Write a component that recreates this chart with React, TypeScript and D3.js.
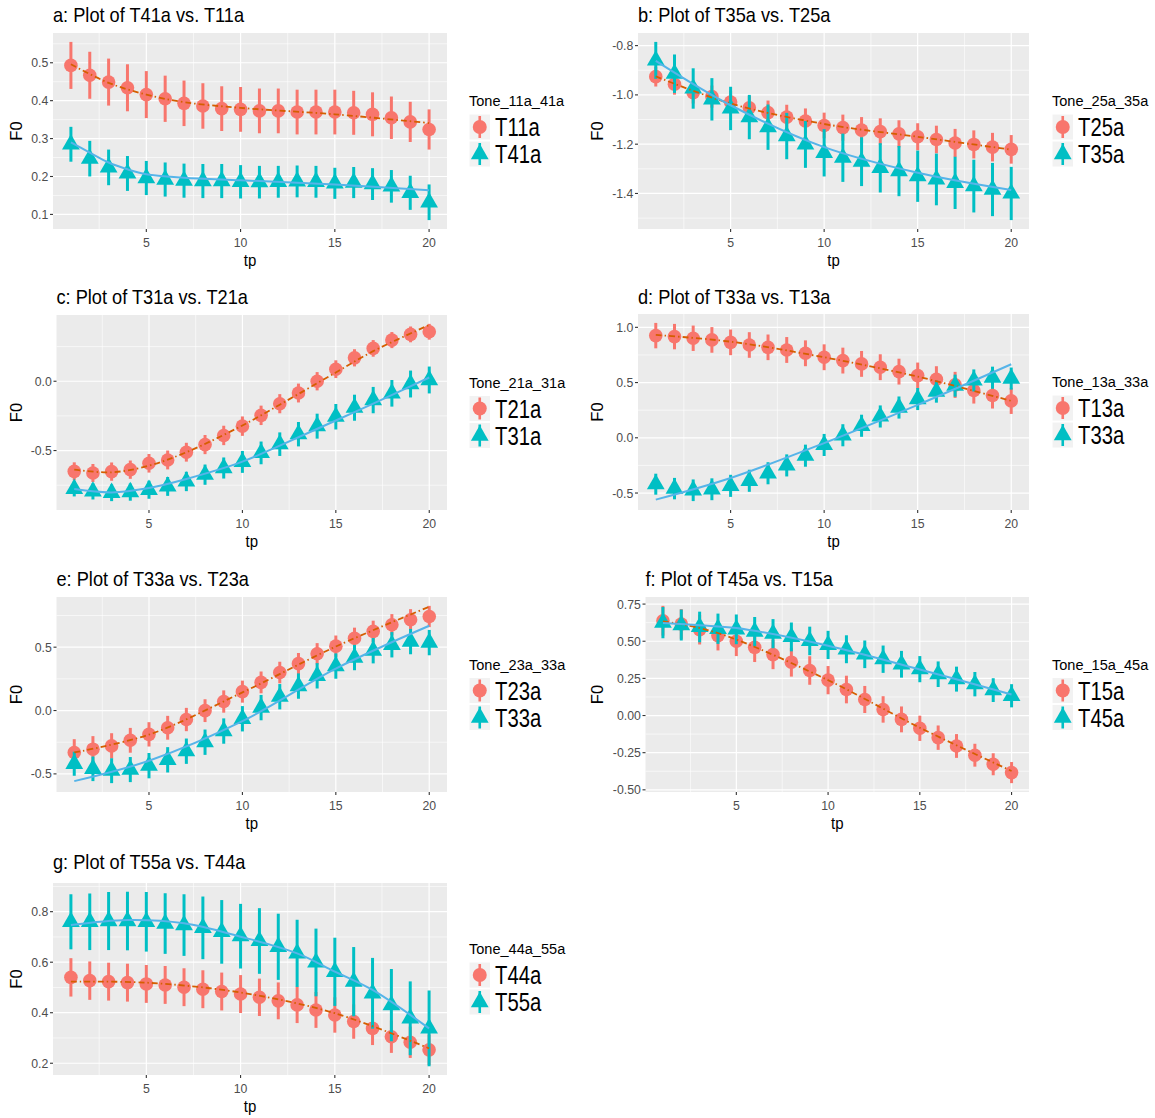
import React from 'react';
import * as d3 from 'd3';

// ---------- data ----------
const TP = [1, 2, 3, 4, 5, 6, 7, 8, 9, 10, 11, 12, 13, 14, 15, 16, 17, 18, 19, 20];
const X_TICKS = [5, 10, 15, 20];

// panel a
const T11A = [0.493, 0.467, 0.449, 0.434, 0.416, 0.405, 0.393, 0.386, 0.379, 0.377, 0.373, 0.373, 0.370, 0.370, 0.370, 0.368, 0.364, 0.355, 0.344, 0.324];
const T11A_ERR = [0.062, 0.062, 0.062, 0.062, 0.062, 0.061, 0.060, 0.060, 0.059, 0.059, 0.059, 0.059, 0.059, 0.059, 0.059, 0.058, 0.058, 0.056, 0.053, 0.053];
const T41A = [0.285, 0.247, 0.224, 0.208, 0.196, 0.192, 0.189, 0.188, 0.188, 0.186, 0.185, 0.186, 0.187, 0.186, 0.182, 0.184, 0.180, 0.174, 0.157, 0.132];
const T41A_ERR = [0.046, 0.047, 0.047, 0.046, 0.045, 0.045, 0.045, 0.045, 0.045, 0.044, 0.043, 0.042, 0.042, 0.042, 0.041, 0.041, 0.042, 0.043, 0.045, 0.047];
const FIT_A_RED_X = [1, 3, 5, 7, 10, 15, 20];
const FIT_A_RED_Y = [0.496, 0.447, 0.416, 0.396, 0.381, 0.364, 0.341];
const FIT_A_BLUE_X = [1, 2, 3, 4, 5, 7, 10, 15, 20];
const FIT_A_BLUE_Y = [0.290, 0.263, 0.237, 0.219, 0.206, 0.197, 0.190, 0.179, 0.164];

// panel b
const T25A = [-0.926, -0.957, -0.991, -1.007, -1.029, -1.052, -1.072, -1.090, -1.106, -1.124, -1.133, -1.143, -1.149, -1.158, -1.170, -1.181, -1.195, -1.201, -1.212, -1.221];
const T25A_ERR = [0.040, 0.042, 0.044, 0.045, 0.046, 0.048, 0.049, 0.050, 0.051, 0.052, 0.053, 0.053, 0.054, 0.055, 0.055, 0.056, 0.057, 0.057, 0.058, 0.058];
const T35A = [-0.860, -0.914, -0.974, -1.018, -1.055, -1.090, -1.131, -1.167, -1.201, -1.235, -1.255, -1.271, -1.296, -1.309, -1.330, -1.343, -1.357, -1.370, -1.384, -1.400];
const T35A_ERR = [0.075, 0.078, 0.082, 0.086, 0.088, 0.090, 0.092, 0.094, 0.095, 0.096, 0.098, 0.099, 0.100, 0.102, 0.104, 0.105, 0.106, 0.107, 0.108, 0.108];
const FIT_B_RED_X = [1, 5, 10, 15, 20];
const FIT_B_RED_Y = [-0.925, -1.035, -1.118, -1.170, -1.222];
const FIT_B_BLUE_X = [1, 5, 10, 15, 20];
const FIT_B_BLUE_Y = [-0.862, -1.042, -1.212, -1.316, -1.386];

// panel c
const T21A = [-0.650, -0.662, -0.652, -0.638, -0.592, -0.568, -0.512, -0.457, -0.391, -0.324, -0.246, -0.162, -0.085, 0.0, 0.087, 0.169, 0.237, 0.297, 0.338, 0.357];
const T21A_ERR = [0.065, 0.065, 0.066, 0.066, 0.067, 0.068, 0.068, 0.069, 0.070, 0.070, 0.070, 0.069, 0.068, 0.066, 0.064, 0.062, 0.060, 0.058, 0.057, 0.057];
const T31A = [-0.776, -0.795, -0.805, -0.800, -0.783, -0.759, -0.723, -0.674, -0.626, -0.582, -0.517, -0.454, -0.382, -0.324, -0.256, -0.191, -0.136, -0.087, -0.020, 0.009];
const T31A_ERR = [0.055, 0.058, 0.060, 0.062, 0.065, 0.068, 0.070, 0.073, 0.076, 0.079, 0.082, 0.085, 0.088, 0.090, 0.092, 0.094, 0.095, 0.096, 0.097, 0.097];
const FIT_C_RED_X = [1, 3, 5, 7, 10, 12, 15, 17, 20];
const FIT_C_RED_Y = [-0.638, -0.657, -0.609, -0.512, -0.319, -0.169, 0.063, 0.217, 0.406];
const FIT_C_BLUE_X = [1, 3, 5, 7, 10, 12, 15, 17, 20];
const FIT_C_BLUE_Y = [-0.778, -0.802, -0.770, -0.705, -0.580, -0.464, -0.283, -0.162, 0.027];

// panel d
const T13A = [0.925, 0.916, 0.901, 0.886, 0.864, 0.840, 0.819, 0.795, 0.765, 0.729, 0.699, 0.669, 0.639, 0.599, 0.563, 0.530, 0.479, 0.428, 0.383, 0.334];
const T13A_ERR = [0.115, 0.115, 0.115, 0.116, 0.116, 0.116, 0.116, 0.117, 0.117, 0.117, 0.117, 0.117, 0.117, 0.117, 0.118, 0.118, 0.118, 0.118, 0.118, 0.118];
// T33a appears in panels d and e
const T33A = [-0.420, -0.460, -0.475, -0.466, -0.435, -0.389, -0.321, -0.250, -0.162, -0.065, 0.023, 0.109, 0.193, 0.274, 0.351, 0.418, 0.472, 0.519, 0.544, 0.536];
const T33A_ERR = [0.095, 0.097, 0.098, 0.099, 0.100, 0.100, 0.100, 0.100, 0.100, 0.100, 0.100, 0.100, 0.100, 0.100, 0.100, 0.100, 0.100, 0.100, 0.100, 0.100];
const FIT_D_RED_X = [1, 5, 10, 15, 20];
const FIT_D_RED_Y = [0.931, 0.870, 0.729, 0.554, 0.334];
const FIT_D_BLUE_X = [1, 5, 10, 15, 20];
const FIT_D_BLUE_Y = [-0.560, -0.364, -0.048, 0.298, 0.666];

// panel e
const T23A = [-0.331, -0.305, -0.279, -0.235, -0.188, -0.136, -0.071, -0.001, 0.071, 0.149, 0.222, 0.300, 0.370, 0.448, 0.508, 0.570, 0.625, 0.677, 0.716, 0.742];
const T23A_ERR = [0.105, 0.103, 0.100, 0.098, 0.096, 0.094, 0.092, 0.090, 0.088, 0.087, 0.086, 0.085, 0.084, 0.084, 0.084, 0.084, 0.084, 0.084, 0.084, 0.084];
const FIT_E_RED_X = [1, 5, 10, 15, 20];
const FIT_E_RED_Y = [-0.331, -0.190, 0.143, 0.505, 0.819];
const FIT_E_BLUE_X = [1, 5, 10, 15, 20];
const FIT_E_BLUE_Y = [-0.557, -0.396, -0.084, 0.331, 0.669];

// panel f
const T15A = [0.638, 0.616, 0.578, 0.538, 0.500, 0.459, 0.410, 0.359, 0.303, 0.238, 0.175, 0.108, 0.041, -0.026, -0.086, -0.149, -0.205, -0.267, -0.328, -0.384];
const T15A_ERR = [0.100, 0.100, 0.100, 0.100, 0.100, 0.099, 0.098, 0.097, 0.096, 0.095, 0.093, 0.091, 0.089, 0.087, 0.085, 0.082, 0.080, 0.077, 0.074, 0.071];
const T45A = [0.625, 0.609, 0.596, 0.584, 0.580, 0.564, 0.551, 0.529, 0.502, 0.475, 0.446, 0.412, 0.379, 0.345, 0.312, 0.278, 0.245, 0.211, 0.171, 0.133];
const T45A_ERR = [0.105, 0.104, 0.103, 0.102, 0.100, 0.099, 0.098, 0.097, 0.096, 0.095, 0.094, 0.093, 0.092, 0.090, 0.088, 0.086, 0.084, 0.082, 0.080, 0.078];
const FIT_F_RED_X = [1, 3, 5, 10, 15, 20];
const FIT_F_RED_Y = [0.634, 0.589, 0.511, 0.238, -0.082, -0.373];
const FIT_F_BLUE_X = [1, 3, 5, 10, 15, 20];
const FIT_F_BLUE_Y = [0.623, 0.607, 0.589, 0.470, 0.310, 0.142];

// panel g
const T44A = [0.540, 0.527, 0.523, 0.519, 0.514, 0.510, 0.501, 0.493, 0.484, 0.474, 0.461, 0.447, 0.431, 0.411, 0.391, 0.365, 0.338, 0.305, 0.283, 0.253];
const T44A_ERR = [0.076, 0.076, 0.075, 0.075, 0.075, 0.075, 0.075, 0.075, 0.075, 0.075, 0.074, 0.073, 0.072, 0.071, 0.070, 0.068, 0.066, 0.064, 0.062, 0.060];
const T55A = [0.760, 0.760, 0.763, 0.763, 0.760, 0.753, 0.747, 0.736, 0.720, 0.703, 0.684, 0.661, 0.635, 0.599, 0.562, 0.523, 0.477, 0.430, 0.378, 0.338];
const T55A_ERR = [0.109, 0.112, 0.115, 0.116, 0.118, 0.120, 0.122, 0.124, 0.126, 0.128, 0.130, 0.131, 0.133, 0.134, 0.135, 0.137, 0.140, 0.143, 0.146, 0.150];
const FIT_G_RED_X = [1, 5, 10, 15, 20];
const FIT_G_RED_Y = [0.523, 0.519, 0.480, 0.398, 0.259];
const FIT_G_BLUE_X = [1, 4, 7, 10, 13, 15, 17, 20];
const FIT_G_BLUE_Y = [0.747, 0.767, 0.754, 0.701, 0.635, 0.563, 0.490, 0.338];

// y tick values & labels
const YT_A = [0.1, 0.2, 0.3, 0.4, 0.5];
const YL_A = ['0.1', '0.2', '0.3', '0.4', '0.5'];
const YT_B = [-1.4, -1.2, -1.0, -0.8];
const YL_B = ['-1.4', '-1.2', '-1.0', '-0.8'];
const YT_C = [-0.5, 0.0];
const YL_C = ['-0.5', '0.0'];
const YT_D = [-0.5, 0.0, 0.5, 1.0];
const YL_D = ['-0.5', '0.0', '0.5', '1.0'];
const YT_E = [-0.5, 0.0, 0.5];
const YL_E = ['-0.5', '0.0', '0.5'];
const YT_F = [-0.5, -0.25, 0, 0.25, 0.5, 0.75];
const YL_F = ['-0.50', '-0.25', '0.00', '0.25', '0.50', '0.75'];
const YT_G = [0.2, 0.4, 0.6, 0.8];
const YL_G = ['0.2', '0.4', '0.6', '0.8'];

// ---------- panel definitions ----------
const PANELS = [
  { title: 'a: Plot of T41a vs. T11a', legend: 'Tone_11a_41a', yt: YT_A, yl: YL_A,
    s1: { name: 'T11a', m: T11A, e: T11A_ERR, fx: FIT_A_RED_X, fy: FIT_A_RED_Y },
    s2: { name: 'T41a', m: T41A, e: T41A_ERR, fx: FIT_A_BLUE_X, fy: FIT_A_BLUE_Y } },
  { title: 'b: Plot of T35a vs. T25a', legend: 'Tone_25a_35a', yt: YT_B, yl: YL_B,
    s1: { name: 'T25a', m: T25A, e: T25A_ERR, fx: FIT_B_RED_X, fy: FIT_B_RED_Y },
    s2: { name: 'T35a', m: T35A, e: T35A_ERR, fx: FIT_B_BLUE_X, fy: FIT_B_BLUE_Y } },
  { title: 'c: Plot of T31a vs. T21a', legend: 'Tone_21a_31a', yt: YT_C, yl: YL_C,
    s1: { name: 'T21a', m: T21A, e: T21A_ERR, fx: FIT_C_RED_X, fy: FIT_C_RED_Y },
    s2: { name: 'T31a', m: T31A, e: T31A_ERR, fx: FIT_C_BLUE_X, fy: FIT_C_BLUE_Y } },
  { title: 'd: Plot of T33a vs. T13a', legend: 'Tone_13a_33a', yt: YT_D, yl: YL_D,
    s1: { name: 'T13a', m: T13A, e: T13A_ERR, fx: FIT_D_RED_X, fy: FIT_D_RED_Y },
    s2: { name: 'T33a', m: T33A, e: T33A_ERR, fx: FIT_D_BLUE_X, fy: FIT_D_BLUE_Y } },
  { title: 'e: Plot of T33a vs. T23a', legend: 'Tone_23a_33a', yt: YT_E, yl: YL_E,
    s1: { name: 'T23a', m: T23A, e: T23A_ERR, fx: FIT_E_RED_X, fy: FIT_E_RED_Y },
    s2: { name: 'T33a', m: T33A, e: T33A_ERR, fx: FIT_E_BLUE_X, fy: FIT_E_BLUE_Y } },
  { title: 'f: Plot of T45a vs. T15a', legend: 'Tone_15a_45a', yt: YT_F, yl: YL_F,
    s1: { name: 'T15a', m: T15A, e: T15A_ERR, fx: FIT_F_RED_X, fy: FIT_F_RED_Y },
    s2: { name: 'T45a', m: T45A, e: T45A_ERR, fx: FIT_F_BLUE_X, fy: FIT_F_BLUE_Y } },
  { title: 'g: Plot of T55a vs. T44a', legend: 'Tone_44a_55a', yt: YT_G, yl: YL_G,
    s1: { name: 'T44a', m: T44A, e: T44A_ERR, fx: FIT_G_RED_X, fy: FIT_G_RED_Y },
    s2: { name: 'T55a', m: T55A, e: T55A_ERR, fx: FIT_G_BLUE_X, fy: FIT_G_BLUE_Y } },
];

// ---------- layout (pixels) ----------
const LAYOUT = [
  { left: 53, right: 447, top: 33, bottom: 229, titleY: 22, yTitleX: 22, legendX: 469 },
  { left: 638, right: 1029, top: 33, bottom: 229, titleY: 22, yTitleX: 603, legendX: 1052 },
  { left: 56.5, right: 447, top: 315, bottom: 510, titleY: 304, yTitleX: 22, legendX: 469 },
  { left: 638, right: 1029, top: 314, bottom: 510, titleY: 304, yTitleX: 603, legendX: 1052 },
  { left: 56.5, right: 447, top: 597, bottom: 792, titleY: 586, yTitleX: 22, legendX: 469 },
  { left: 645.5, right: 1029, top: 597, bottom: 792, titleY: 586, yTitleX: 603, legendX: 1052 },
  { left: 53, right: 447, top: 883, bottom: 1075, titleY: 869, yTitleX: 22, legendX: 469 },
];

const RED = '#F8766D';
const BLUE = '#00BFC4';
const RED_FIT = '#D55E00';
const BLUE_FIT = '#56B4E9';
const PANEL_BG = '#EBEBEB';
const FONT = '"Liberation Sans", Arial, Helvetica, sans-serif';
const PT = 6.6; // point size unit

function triPath(cx: number, cy: number, u: number) {
  return `M${cx},${cy - 1.5551 * u}L${cx + 1.3468 * u},${cy + 0.7776 * u}L${cx - 1.3468 * u},${cy + 0.7776 * u}Z`;
}

function Txt({ x, y, size, anchor = 'start', sx = 0.91, fill = '#000', rotate = 0, children }: any) {
  return (
    <text
      transform={`translate(${x},${y}) rotate(${rotate}) scale(${sx},1)`}
      fontSize={size}
      fontFamily={FONT}
      textAnchor={anchor}
      fill={fill}
    >
      {children}
    </text>
  );
}

function Panel({ p, L }: any) {
  const xExt = d3.extent(TP) as [number, number];
  const xPad = (xExt[1] - xExt[0]) * 0.05;
  const x = d3.scaleLinear().domain([xExt[0] - xPad, xExt[1] + xPad]).range([L.left, L.right]);

  const vals: number[] = [];
  [p.s1, p.s2].forEach((s: any) => {
    s.m.forEach((v: number, i: number) => { vals.push(v - s.e[i], v + s.e[i]); });
    s.fy.forEach((v: number) => vals.push(v));
  });
  const yExt = d3.extent(vals) as [number, number];
  const yPad = (yExt[1] - yExt[0]) * 0.05;
  const yDom: [number, number] = [yExt[0] - yPad, yExt[1] + yPad];
  const y = d3.scaleLinear().domain(yDom).range([L.bottom, L.top]);

  const yt: number[] = p.yt;
  const step = yt[1] - yt[0];
  const yMinor: number[] = [];
  for (let i = -1; i < yt.length; i++) {
    const v = (i < 0 ? yt[0] - step / 2 : yt[i] + step / 2);
    if (v >= yDom[0] && v <= yDom[1]) yMinor.push(v);
  }
  const xStep = X_TICKS[1] - X_TICKS[0];
  const xMinor: number[] = [];
  for (let i = -1; i < X_TICKS.length; i++) {
    const v = i < 0 ? X_TICKS[0] - xStep / 2 : X_TICKS[i] + xStep / 2;
    if (v >= x.domain()[0] && v <= x.domain()[1]) xMinor.push(v);
  }

  const fitPath = (fx: number[], fy: number[]) =>
    d3.line<[number, number]>().x(d => x(d[0])).y(d => y(d[1])).curve(d3.curveCatmullRom.alpha(0.5))(fx.map((v, i) => [v, fy[i]]));

  const midY = (L.top + L.bottom) / 2;
  const keyW = 21.5, keyH = 26;
  const key1Top = midY - 17, key2Top = midY + 10;

  return (
    <g>
      <Txt x={L.left} y={L.titleY} size={20}>{p.title}</Txt>
      <rect x={L.left} y={L.top} width={L.right - L.left} height={L.bottom - L.top} fill={PANEL_BG} />
      {yMinor.map((v: number) => (
        <line key={'ym' + v} x1={L.left} x2={L.right} y1={y(v)} y2={y(v)} stroke="#fff" strokeWidth={0.6} />
      ))}
      {xMinor.map((v: number) => (
        <line key={'xm' + v} y1={L.top} y2={L.bottom} x1={x(v)} x2={x(v)} stroke="#fff" strokeWidth={0.6} />
      ))}
      {yt.map((v: number) => (
        <line key={'yM' + v} x1={L.left} x2={L.right} y1={y(v)} y2={y(v)} stroke="#fff" strokeWidth={1.2} />
      ))}
      {X_TICKS.map((v: number) => (
        <line key={'xM' + v} y1={L.top} y2={L.bottom} x1={x(v)} x2={x(v)} stroke="#fff" strokeWidth={1.2} />
      ))}
      {yt.map((v: number, i: number) => (
        <g key={'yl' + v}>
          <line x1={L.left - 3} x2={L.left} y1={y(v)} y2={y(v)} stroke="#333" strokeWidth={1.1} />
          <Txt x={L.left - 4.7} y={y(v) + 4.6} size={13.5} anchor="end" fill="#4D4D4D">{p.yl[i]}</Txt>
        </g>
      ))}
      {X_TICKS.map((v: number) => (
        <g key={'xl' + v}>
          <line y1={L.bottom} y2={L.bottom + 3} x1={x(v)} x2={x(v)} stroke="#333" strokeWidth={1.1} />
          <Txt x={x(v)} y={L.bottom + 18.3} size={13.5} anchor="middle" fill="#4D4D4D">{String(v)}</Txt>
        </g>
      ))}
      <Txt x={(L.left + L.right) / 2} y={L.bottom + 37} size={16.5} anchor="middle">tp</Txt>
      <Txt x={L.yTitleX} y={midY} size={16.5} anchor="middle" rotate={-90} sx={1}>F0</Txt>

      {TP.map((t, i) => (
        <g key={'r' + t}>
          <line x1={x(t)} x2={x(t)} y1={y(p.s1.m[i] - p.s1.e[i])} y2={y(p.s1.m[i] + p.s1.e[i])} stroke={RED} strokeWidth={3} />
          <circle cx={x(t)} cy={y(p.s1.m[i])} r={PT + 0.2} fill={RED} />
        </g>
      ))}
      {TP.map((t, i) => (
        <g key={'b' + t}>
          <line x1={x(t)} x2={x(t)} y1={y(p.s2.m[i] - p.s2.e[i])} y2={y(p.s2.m[i] + p.s2.e[i])} stroke={BLUE} strokeWidth={3} />
          <path d={triPath(x(t), y(p.s2.m[i]), PT)} fill={BLUE} />
        </g>
      ))}
      <path d={fitPath(p.s1.fx, p.s1.fy) || ''} fill="none" stroke={RED_FIT} strokeWidth={1.8} strokeDasharray="6,3,1.5,3" />
      <path d={fitPath(p.s2.fx, p.s2.fy) || ''} fill="none" stroke={BLUE_FIT} strokeWidth={2} />

      <Txt x={L.legendX} y={midY - 25} size={15} sx={0.97}>{p.legend}</Txt>
      {[{ s: p.s1, top: key1Top, tri: false, c: RED }, { s: p.s2, top: key2Top, tri: true, c: BLUE }].map((k: any) => {
        const cx = L.legendX + keyW / 2;
        const cy = k.top + keyH / 2;
        return (
          <g key={k.s.name}>
            <rect x={L.legendX} y={k.top} width={keyW} height={keyH} fill="#F2F2F2" stroke="#fff" strokeWidth={1} />
            <line x1={cx} x2={cx} y1={k.top + 2} y2={k.top + keyH - 2} stroke={k.c} strokeWidth={2.6} />
            {k.tri ? <path d={triPath(cx, cy, PT)} fill={k.c} /> : <circle cx={cx} cy={cy} r={PT + 0.4} fill={k.c} />}
            <Txt x={L.legendX + keyW + 4.5} y={cy + 9} size={26} sx={0.78}>{k.s.name}</Txt>
          </g>
        );
      })}
    </g>
  );
}

export default function App() {
  return (
    <div style={{ position: 'absolute', left: 0, top: 0 }}>
      <svg width={1155} height={1118} style={{ display: 'block', background: '#fff' }}>
        {PANELS.map((p, i) => (
          <Panel key={i} p={p} L={LAYOUT[i]} />
        ))}
      </svg>
    </div>
  );
}
